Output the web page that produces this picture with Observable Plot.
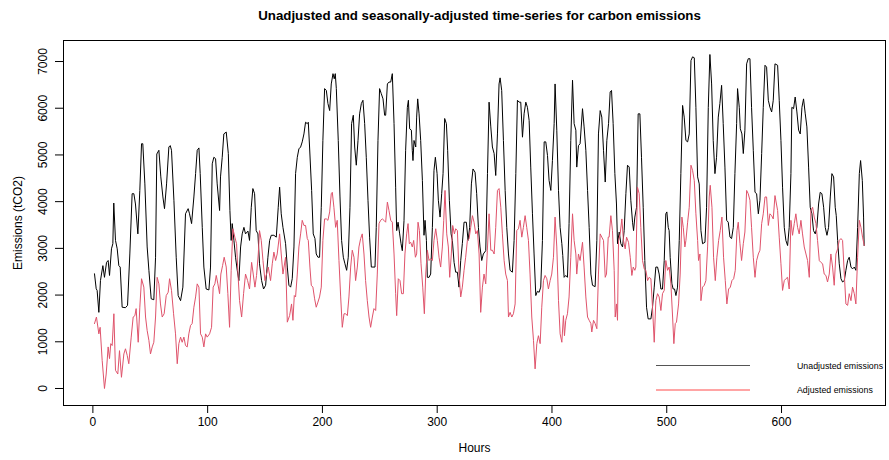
<!DOCTYPE html>
<html>
<head>
<meta charset="utf-8">
<script src="https://cdn.jsdelivr.net/npm/d3@7"></script>
<script src="https://cdn.jsdelivr.net/npm/@observablehq/plot@0.6"></script>
<style>
  html, body { margin: 0; padding: 0; background: #fff; }
  #wrap { position: relative; width: 889px; height: 460px; font-family: "Liberation Sans", Arial, Helvetica, sans-serif; }
  #legend { position: absolute; left: 0; top: 0; width: 889px; height: 460px; pointer-events: none; }
</style>
</head>
<body>
<div id="wrap"></div>
<script>
const title = "Unadjusted and seasonally-adjusted time-series for carbon emissions";
const xLabel = "Hours";
const yLabel = "Emissions (tCO2)";
const xTicks = [0, 100, 200, 300, 400, 500, 600];
const yTicks = [0, 1000, 2000, 3000, 4000, 5000, 6000, 7000];
const seriesNames = ["Unadjusted emissions", "Adjusted emissions"];

// Unadjusted emissions (hour, tCO2)
const unadjHours = [1.4,2.9,3.7,5.2,6.6,8.7,10.1,11.9,13.3,14.5,16.2,17.4,18.2,19.7,21.2,22.6,23.8,25.5,28.4,30.2,32.2,34.2,35.7,37.1,39.2,40.9,42.4,43.5,45.3,47.3,48.8,50.8,53.1,54.6,55.7,57.5,59.2,61,62.4,64.2,66.2,67.4,68.5,70.6,72.6,74.3,76.4,78.4,
80.7,83,84.2,86,88,89.5,90.9,92.4,93.5,95.3,96.7,98.7,101.1,102.5,104,105.4,106.9,108.3,110.4,111.2,112.7,114.1,116.2,118,119.4,120.5,121.4,122.9,124.3,125.8,127.2,128.7,130.1,131.6,133,135.1,136.5,138,139.4,140.9,142.3,143.8,145.2,147,148.7,150.5,152.5,154,155.4,157.7,159.8,161.5,162.7,164.1,165.6,
167.9,169.4,170.8,172.3,173.7,175.2,176.6,178.1,179.5,181,182.4,183.9,185.3,186.8,187.7,188.8,190.6,192,193.5,194.6,196.1,197.5,199,200.4,201.9,203.4,204.8,206.3,207.7,209.2,210.3,211.2,212.1,213.8,215.3,216.7,218.2,219.6,221.1,222.5,224,225.4,226.9,228.1,229.5,231,232.4,233.9,235.3,236.8,238.2,239.7,241.1,242.6,244,245.8,246.9,248.4,249.8,251.3,252.8,254.2,
255.1,256.6,258,259.5,260.9,262.4,263.8,264.7,265.9,267.3,268.5,269.6,271.1,272.5,274,274.9,276,277.5,278.3,278.9,279.8,281.3,282.1,283,284.2,285.6,287.1,288.5,289.4,290.6,291.4,292.9,294.3,295.8,297.2,298.4,299.9,301,302.5,303.9,305.1,306.5,308,309.1,310.6,312.1,313.2,314.7,316.1,317.6,319,320.5,321.9,323.4,325.4,326.9,328.3,329.8,331.2,333,334.4,335.9,337.3,338.8,340.2,
342.3,343.8,345.2,346.7,348.1,349.6,351,352.5,353.9,354.8,356.2,357.7,359.2,360.6,362.1,363.5,365.5,367,368.5,369.9,371.4,372.8,374.3,375.7,377.2,378.6,380.1,381.5,383,384.4,385.9,387.3,388.8,390.2,391.7,393.2,394.6,396.1,397.5,399,400.4,401.9,402.7,404.2,405.7,407.1,408.6,409.4,410.6,412,413.5,414.9,416.4,417.9,419.3,420.8,421.6,423.1,424.5,426.6,428,
429.5,431,432.4,433.9,435.3,437.6,439.1,440.5,442,443.4,444.9,446.4,447.8,449.3,450.7,451.9,453.3,454.8,456.2,457.1,458.6,460,461.5,462.9,464.4,465.8,467.3,468.7,470.2,471.1,472.2,473.7,475.1,476.6,478,479.5,480.9,482.4,483.8,486.2,487.6,489.1,490.5,492,493.4,494.9,496.3,497.8,499.2,500.1,501.3,502.1,503,504.5,505.6,506.8,508,509.4,510.9,512.3,513.8,515.2,
516.7,518.2,519.6,521.1,522.5,524,525.4,526.9,528.3,529.8,531.2,533.3,534.7,536.2,537.6,539.1,540.5,542,543.4,544.9,546.3,547.8,549.2,550.7,552.2,553.6,555.1,556.5,558,559.4,560.9,561.7,563.2,564.1,565.5,566.7,568.1,569.6,571,572.5,573.9,575.4,576.9,578.3,579.8,581.2,582.7,584.1,585.6,587,588.5,589.9,591.4,592.8,594.3,
596.6,598,599.5,600.9,602.4,603.8,605.3,606.7,608.2,609,610.5,611.9,613.4,614.9,616.3,617.8,619.2,620.7,622.1,623.6,625,626.5,627.9,629.4,630.8,632.3,633.7,635.2,636.7,638.1,639.6,641,642.5,643.9,645.4,646.8,647.7,648.9,650.3,651.8,653.2,654.7,656.1,657.6,659,660.5,661.9,663.4,664.8,666.3,667.8,668.9,670.4,671.5,672];
const unadjValues = [2455,2134,2100,1630,2310,2630,2380,2700,2740,2420,2990,3100,3970,3170,2990,2630,2600,1740,1730,1780,2880,4170,4170,3950,3310,4240,5240,5240,4380,3030,2530,1920,1900,2810,5020,5100,4530,4100,3850,4380,5170,5200,5100,4030,2810,1990,1880,2170,
3740,3850,3740,3530,4100,4600,5100,5150,4600,3450,2600,2130,2110,2600,4810,4950,4920,4380,3810,4530,4950,5450,5490,5030,3810,3170,3530,3170,2810,2530,2310,3030,3310,3450,3310,3370,3170,3880,4280,4170,3380,3310,2670,2310,2130,2210,2810,3170,3280,3280,3240,3880,4310,3740,3450,
3100,2600,2210,2170,2350,3030,4600,4950,5130,5170,5280,5450,5700,5670,5700,5170,4240,3310,3210,2880,2810,2810,3880,5310,6420,6380,6100,5950,6520,6740,6630,6740,6420,5310,4100,3170,2810,2670,2530,2810,3880,5670,5850,5170,4780,5310,5880,6100,6170,5670,4950,4030,3240,2600,2600,2600,3450,5310,6420,6310,6200,5850,
5850,6520,6560,6560,6740,5670,4310,3380,3560,3310,3100,2950,3600,5100,6020,6170,5560,5530,5100,4880,5310,5170,5810,6200,5880,5310,4450,3280,3600,3170,2380,2380,2450,3450,4670,4950,4600,4030,3670,4170,4600,5780,5670,5100,4030,3310,3170,2700,2490,2490,2170,2740,3100,3560,3560,3170,3450,4380,4700,4630,4170,3450,3030,2740,2880,
2950,4600,6130,5600,5170,5030,4560,5450,6520,6650,6380,5310,4240,3450,2880,2530,2490,3170,4600,6170,6130,6130,5380,5880,6130,6020,5740,4740,3740,2880,1990,2080,2060,2170,3170,5280,5280,4990,4450,4240,4880,5670,6520,5530,4240,3450,3100,2850,2380,2420,2380,3530,5310,6600,5670,5530,4740,5200,5240,5990,5600,
5100,4240,3450,2450,2210,2180,3170,5450,5950,5810,5100,4420,5310,5670,6350,6380,5670,4600,3950,3100,3350,3100,3030,3380,4170,4780,4740,4030,3560,3380,3670,3880,5880,5880,4950,3880,2740,1740,1490,1490,1740,2170,2600,2600,2450,2130,2130,2740,3740,3780,3450,3380,2810,2240,2130,2130,1990,2170,3170,4600,6060,5810,
5310,5280,5450,7020,7100,7080,6020,4530,4380,3380,3100,3130,3880,6020,7150,6520,5310,4600,4950,5810,6100,6490,5670,4740,3600,3560,3240,3210,3450,4600,5670,6420,6020,5560,5450,5030,5530,6950,7060,7060,6020,5100,4200,4170,3740,4030,5030,6020,6920,6880,6170,6020,5920,6170,6950,
6920,6170,5310,4310,3450,3170,3060,3450,4600,6020,5990,6240,5920,5530,5450,6020,6200,5880,5600,4740,3880,3740,3380,3310,3450,3950,4200,4170,3880,3450,3280,3450,4100,4600,4530,3880,3700,3170,2670,2350,2280,2310,2530,2740,2810,2600,2560,2600,2530,3450,4600,4880,4450,3670,3060];

// Seasonally-adjusted emissions (hour, tCO2)
const adjHours = [1.4,3.1,5.2,6.3,8.1,10.1,11.6,13.3,14.5,15.6,16.8,18.3,19.7,21.7,23.2,24.9,27,28.4,29.9,31.3,33.4,35.1,36.6,37.7,39.5,40.9,42.4,44.4,45.9,47.3,48.8,50.2,51.7,53.1,54.6,56,57.5,58.9,60.4,62.1,63.9,65.6,66.8,68.5,70.3,72,73.5,74.9,76.4,77.8,79.3,
80.7,82.2,83.6,85.1,86.5,88,89.5,90.9,92.4,93.8,95.3,96.7,98.2,99.6,101.7,103.4,104.8,106.3,107.5,108.9,110.4,111.5,113,114.4,116.2,117.6,119.1,120.5,122,123.7,125.2,126.4,127.8,129.6,131.3,133,134.8,136.5,138.3,139.7,141.2,142.6,144.1,145.2,146.7,148.2,149.9,151.3,152.8,154.8,156.3,157.7,159.2,160.6,162.7,164.1,165.6,
167.9,169.4,171.4,173.1,174.3,175.5,176.6,178.1,179.5,181,182.4,183.9,185.3,186.8,187.7,189.1,190.3,191.7,193.2,194.6,196.1,197.5,199,200.4,201.9,203.4,204.8,206.3,207.7,208.6,210,211.5,212.9,214.4,215.9,217.3,218.8,220.2,221.7,223.1,224.6,226,227.5,228.9,230.4,231.8,233.3,234.7,236.2,237.6,239.1,240.6,242,243.5,244.9,246.4,247.8,249.3,250.7,252.2,253.6,
255.1,256.6,258,259.5,260.9,262.4,263.8,264.7,266.1,267.6,269,270.5,271.9,273.4,274.6,275.7,276.9,278.3,279.5,281,282.1,283.3,284.5,285.9,287.4,288.8,290,291.4,292.9,294.3,295.8,297.2,298.7,300.1,301.6,303,304.5,305.7,306.8,308.3,309.7,310.9,312.3,313.5,315,316.1,317.6,319,320.5,321.9,323.4,324.8,326.3,327.8,329.2,330.7,332.1,333.6,335,336.5,337.9,339.4,340.8,
342.3,343.7,345.2,346.7,348.1,349.6,351,352.5,353.9,355.4,356.8,358.3,359.7,361.2,362.1,363.5,365,366.4,367.9,369.3,370.8,372.2,373.7,375.1,376.6,378,379.5,380.9,382.4,383.9,385.3,386.8,388.2,389.7,391.1,392.6,394,395.5,396.9,398.4,399.8,401.3,402.7,404.2,405.7,407.1,408.6,410,410.9,412,413.5,414.9,416.4,417.9,419.3,420.8,421.6,423.1,424.5,426.6,428,
429.5,431,432.4,433.9,434.7,436.2,437.6,439.1,440.5,442,443.4,444.9,446.4,447.5,449,449.8,451.3,452.7,454.2,455.1,456.2,457.1,458,459.4,460.9,462.3,463.8,465,466.7,468.2,469.6,470.8,472.2,473.1,474.5,476,477.4,478.9,480.4,481.8,483.3,484.7,486.2,487.6,489.1,490.5,492,493.4,494.9,496.3,497.8,499.2,500.7,502.1,503.6,505.1,506.2,507.4,508.5,510.3,511.7,513.2,514.4,515.8,
516.7,518.2,519.6,521.1,522.5,524,525.4,526.9,527.7,528.9,529.8,531.2,532.7,534.1,535.6,537,537.9,539.4,540.8,542.3,543.7,545.2,546.6,548.1,549.5,551,552.4,553.9,555.4,556.8,558.3,559.7,561.2,562.3,563.8,565.2,566.7,568.1,569.6,571,572.5,573.9,575.4,576.9,578.3,579.8,581.2,582.7,584.1,585.6,587,588.5,589.9,591.4,592.8,594.3,
596.6,598,599.5,600.9,602.4,603.8,605.3,606.7,608.2,609.6,611.1,612.5,614,615.4,616.9,618.3,619.8,621.3,622.7,624.2,625.6,627.1,628.5,630,631.4,632.9,634.3,635.8,637.2,638.7,640.1,641.6,643,644.5,645.9,647.4,648.9,650.3,651.8,653.2,654.7,656.1,657.6,659,660.5,661.9,663.4,664.8,666.3,667.8,669.2,670.6,672.1];
const adjValues = [1390,1530,1170,1310,600,0,310,890,640,960,920,1600,390,310,810,240,740,850,710,530,1100,1530,1560,1710,990,1740,2350,2170,1530,1240,1030,740,890,990,1530,2380,2240,1810,1530,1600,1990,2060,2350,2100,1600,1170,530,960,1100,990,1100,
920,890,1170,1350,1390,1740,1960,2240,2170,1170,1100,890,1170,1100,1170,1310,2170,2240,2420,2240,2030,2450,2630,2810,2600,2030,1310,2530,3420,3240,3100,2450,1880,1530,2030,2450,2310,2130,2700,2450,2170,2420,2880,3380,3170,2740,2310,2450,2600,2310,2670,2920,2740,2880,3310,2880,2450,
2810,1420,1560,1810,1460,1990,1960,2450,3030,3310,3600,3490,3490,3210,3170,2600,2210,2170,1920,1740,1850,1960,2170,3170,3630,3630,3600,3780,4170,4200,3880,3450,3600,2740,1960,1310,1600,1600,1560,1960,2600,2960,2810,2310,2600,3030,3210,3310,2880,2310,1880,1530,1310,1530,1710,1670,2450,3530,3600,3630,3600,
3560,3990,3810,3600,3560,2880,2030,1560,2350,2310,2030,2030,2880,3310,3530,3100,3130,3030,3170,2810,2880,3560,3380,2670,2170,1600,2450,2960,2740,2780,2740,3170,3420,3170,2810,2600,3030,3600,4240,3310,3030,2380,2880,3490,3310,3420,3380,2450,1960,2170,2530,2810,3170,3210,3450,3700,3560,3310,3380,2880,1630,2170,2450,
2240,2960,3740,2960,2960,2880,3450,4240,4280,3880,3310,2740,2450,2310,1530,1630,1530,1600,1810,3380,3420,3600,3240,3450,3700,3450,3170,2450,1530,1030,420,960,1130,960,1740,2310,2420,2350,2130,2310,2450,2810,3670,3030,1880,1170,990,1560,1130,1460,1600,1960,2810,3740,3170,2880,2450,2880,2740,3130,2600,
1960,1530,1460,1390,1210,1460,1390,1280,2450,3310,3240,3170,2380,2450,3240,3240,3700,3380,2530,1530,1810,1460,3170,3310,3630,3170,2990,3240,3130,2810,2420,2600,2530,2600,4310,4170,3450,2740,2560,2530,2310,2380,2350,1740,990,1880,2030,1960,1670,2030,2100,2740,2530,2600,2240,1530,960,1390,1420,1810,2450,3670,3450,3030,
3170,3560,3880,4780,4670,4450,3740,3170,2740,2880,1880,2170,2210,2310,3030,4100,4350,3880,2810,2310,2810,3170,3380,3670,2810,2310,1810,2130,2170,2310,2350,2530,3380,3560,3100,2740,3100,3350,4240,4170,4030,3450,2810,2380,2740,2880,2960,3530,3740,4100,4100,3490,3740,3700,3630,4130,
3810,3240,2670,2100,2310,2350,2380,2130,3600,3280,3530,3740,3450,3310,3600,3310,3030,2880,2740,2380,3810,3880,3670,3530,3170,2740,2700,2670,2450,2420,2280,2450,2880,2600,2210,2880,2990,3170,3210,3170,2450,1810,1780,2030,1880,2170,2030,1810,2810,3600,3450,3240,3060];

const unadj = unadjHours.map((h, i) => ({hour: h, value: unadjValues[i]}));
const adj = adjHours.map((h, i) => ({hour: h, value: adjValues[i]}));

const BLACK = "#000000";
const RED = "#DF536B";
const LEGEND_BLACK = "#555555";
const LEGEND_RED = "#ff4a4a";

const chart = Plot.plot({
  width: 889,
  height: 460,
  marginLeft: 63,
  marginRight: 4,
  marginTop: 40,
  marginBottom: 55,
  style: {fontFamily: "'Liberation Sans', Arial, Helvetica, sans-serif", fontSize: "12px", background: "#fff", color: "#000"},
  x: {domain: [-25.6, 690.6], label: null},
  y: {domain: [-364, 7450], label: null},
  marks: [
    Plot.line(unadj, {x: "hour", y: "value", stroke: BLACK, strokeWidth: 1}),
    Plot.line(adj, {x: "hour", y: "value", stroke: RED, strokeWidth: 1}),
    Plot.frame({stroke: "#000", strokeWidth: 1}),
    Plot.axisX({ticks: xTicks, tickSize: 8, tickPadding: 4, label: null, fontSize: 12, stroke: "#000"}),
    Plot.axisY({ticks: yTicks, tickSize: 8, tickFormat: () => "", label: null, stroke: "#000"}),
    Plot.text(yTicks, {y: d => d, text: d => String(d), frameAnchor: "left", dx: -20, rotate: -90, textAnchor: "middle", lineAnchor: "middle", fontSize: 12, fill: "#000"}),
    Plot.text([yLabel], {text: d => d, frameAnchor: "left", dx: -45, rotate: -90, textAnchor: "middle", lineAnchor: "middle", fontSize: 12, fill: "#000"}),
    Plot.text([xLabel], {text: d => d, frameAnchor: "bottom", dy: 43, textAnchor: "middle", lineAnchor: "middle", fontSize: 12, fill: "#000"}),
    Plot.text([title], {text: d => d, frameAnchor: "top", dy: -25, dx: 5, textAnchor: "middle", lineAnchor: "middle", fontSize: 13.3, fontWeight: "bold", fill: "#000"})
  ]
});

const wrap = document.getElementById("wrap");
wrap.appendChild(chart);

// Legend (bottom-right, inside the frame as in the reference)
const legendColors = [LEGEND_BLACK, LEGEND_RED];
const ns = "http://www.w3.org/2000/svg";
const leg = document.createElementNS(ns, "svg");
leg.setAttribute("id", "legend");
leg.setAttribute("width", 889);
leg.setAttribute("height", 460);
seriesNames.forEach((name, i) => {
  const y = 365.5 + i * 24.5;
  const ln = document.createElementNS(ns, "line");
  ln.setAttribute("x1", 656); ln.setAttribute("x2", 750);
  ln.setAttribute("y1", y); ln.setAttribute("y2", y);
  ln.setAttribute("stroke", legendColors[i]);
  ln.setAttribute("stroke-width", 1);
  leg.appendChild(ln);
  const t = document.createElementNS(ns, "text");
  t.setAttribute("x", 797); t.setAttribute("y", y);
  t.setAttribute("dominant-baseline", "central");
  t.setAttribute("font-size", "8.8");
  t.setAttribute("font-family", "'Liberation Sans', Arial, Helvetica, sans-serif");
  t.setAttribute("fill", "#000");
  t.textContent = name;
  leg.appendChild(t);
});
wrap.appendChild(leg);
</script>
</body>
</html>
